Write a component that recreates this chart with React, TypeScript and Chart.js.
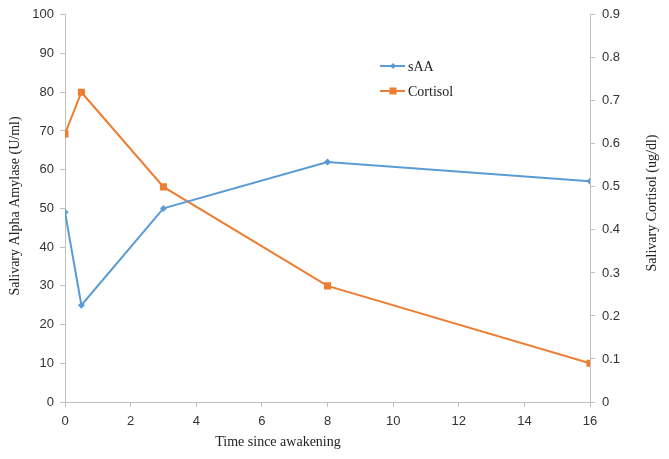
import React, { useEffect, useRef } from "react";
import { Chart, registerables } from "chart.js";
Chart.register(...registerables);

const timePoints = [0, 0.5, 3, 8, 16];
const saaValues = [49, 25, 50, 62, 57];
const cortisolValues = [0.623, 0.72, 0.5, 0.27, 0.09];
const xTitle = "Time since awakening";
const leftTitle = "Salivary Alpha Amylase (U/ml)";
const rightTitle = "Salivary Cortisol (ug/dl)";

const BLUE = "#5B9BD5";
const ORANGE = "#ED7D31";
const AXIS = "#BFBFBF";
const TEXT = "#333333";

const overlay = {
  id: "overlay",
  afterDraw(chart: any) {
    const ctx = chart.ctx;
    ctx.save();
    ctx.fillStyle = "#222";
    ctx.font = "14px 'Liberation Serif', 'Times New Roman', serif";
    ctx.textAlign = "center";
    ctx.textBaseline = "middle";
    ctx.fillText(xTitle, 278, 442);
    ctx.save();
    ctx.translate(15, 206);
    ctx.rotate(-Math.PI / 2);
    ctx.fillText(leftTitle, 0, 0);
    ctx.restore();
    ctx.save();
    ctx.translate(652, 203);
    ctx.rotate(-Math.PI / 2);
    ctx.fillText(rightTitle, 0, 0);
    ctx.restore();
    const items = chart.data.datasets;
    const ys = [66, 91];
    items.forEach((ds: any, i: number) => {
      const y = ys[i];
      ctx.strokeStyle = ds.borderColor;
      ctx.lineWidth = 2;
      ctx.beginPath();
      ctx.moveTo(380, y);
      ctx.lineTo(405, y);
      ctx.stroke();
      ctx.fillStyle = ds.borderColor;
      const r = ds.pointStyle === "rect" ? 3.5 : 3;
      if (ds.pointStyle === "rect") {
        ctx.fillRect(393 - r, y - r, 2 * r, 2 * r);
      } else {
        ctx.beginPath();
        ctx.moveTo(393, y - r);
        ctx.lineTo(393 + r, y);
        ctx.lineTo(393, y + r);
        ctx.lineTo(393 - r, y);
        ctx.closePath();
        ctx.fill();
      }
      ctx.fillStyle = "#222";
      ctx.textAlign = "left";
      ctx.fillText(ds.label, 408, y + 1);
    });
    ctx.restore();
  },
};

export default function App() {
  const ref = useRef<HTMLCanvasElement>(null);
  useEffect(() => {
    const tickFont = { family: "'Liberation Sans', Arial, sans-serif", size: 13 };
    const chart = new Chart(ref.current!, {
      type: "line",
      data: {
        datasets: [
          {
            label: "sAA",
            data: timePoints.map((t, i) => ({ x: t, y: saaValues[i] })),
            borderColor: BLUE,
            backgroundColor: BLUE,
            borderWidth: 2,
            pointStyle: "rectRot",
            pointRadius: 3.5,
            pointBorderWidth: 0,
            yAxisID: "y",
          },
          {
            label: "Cortisol",
            data: timePoints.map((t, i) => ({ x: t, y: cortisolValues[i] })),
            borderColor: ORANGE,
            backgroundColor: ORANGE,
            borderWidth: 2,
            pointStyle: "rect",
            pointRadius: 5,
            pointBorderWidth: 0,
            yAxisID: "y1",
          },
        ],
      },
      options: {
        animation: false,
        responsive: false,
        layout: { padding: { top: 14, left: 0, right: 0, bottom: 0 } },
        plugins: { legend: { display: false }, tooltip: { enabled: false } },
        scales: {
          x: {
            type: "linear",
            min: 0,
            max: 16,
            ticks: { stepSize: 2, color: TEXT, font: tickFont, padding: 7 },
            grid: { drawOnChartArea: false, tickLength: 5, color: AXIS },
            border: { color: AXIS },
            afterFit: (s: any) => { s.height = 57; },
          },
          y: {
            position: "left",
            min: 0,
            max: 100,
            ticks: { stepSize: 10, color: TEXT, font: tickFont, padding: 6 },
            grid: { drawOnChartArea: false, tickLength: 5, color: AXIS },
            border: { color: AXIS },
            afterFit: (s: any) => { s.width = 65; },
          },
          y1: {
            position: "right",
            min: 0,
            max: 0.9,
            ticks: {
              stepSize: 0.1,
              color: TEXT,
              font: tickFont,
              padding: 7,
              callback: (v: any) => (Math.abs(v) < 1e-9 ? "0" : Number(v).toFixed(1)),
            },
            grid: { drawOnChartArea: false, tickLength: 5, color: AXIS },
            border: { color: AXIS },
            afterFit: (s: any) => { s.width = 79; },
          },
        },
      } as any,
      plugins: [overlay],
    });
    return () => chart.destroy();
  }, []);
  return (
    <div style={{ position: "fixed", left: 0, top: 0, width: 669, height: 459, background: "#fff" }}>
      <canvas ref={ref} width={669} height={459} style={{ width: 669, height: 459 }} />
    </div>
  );
}
